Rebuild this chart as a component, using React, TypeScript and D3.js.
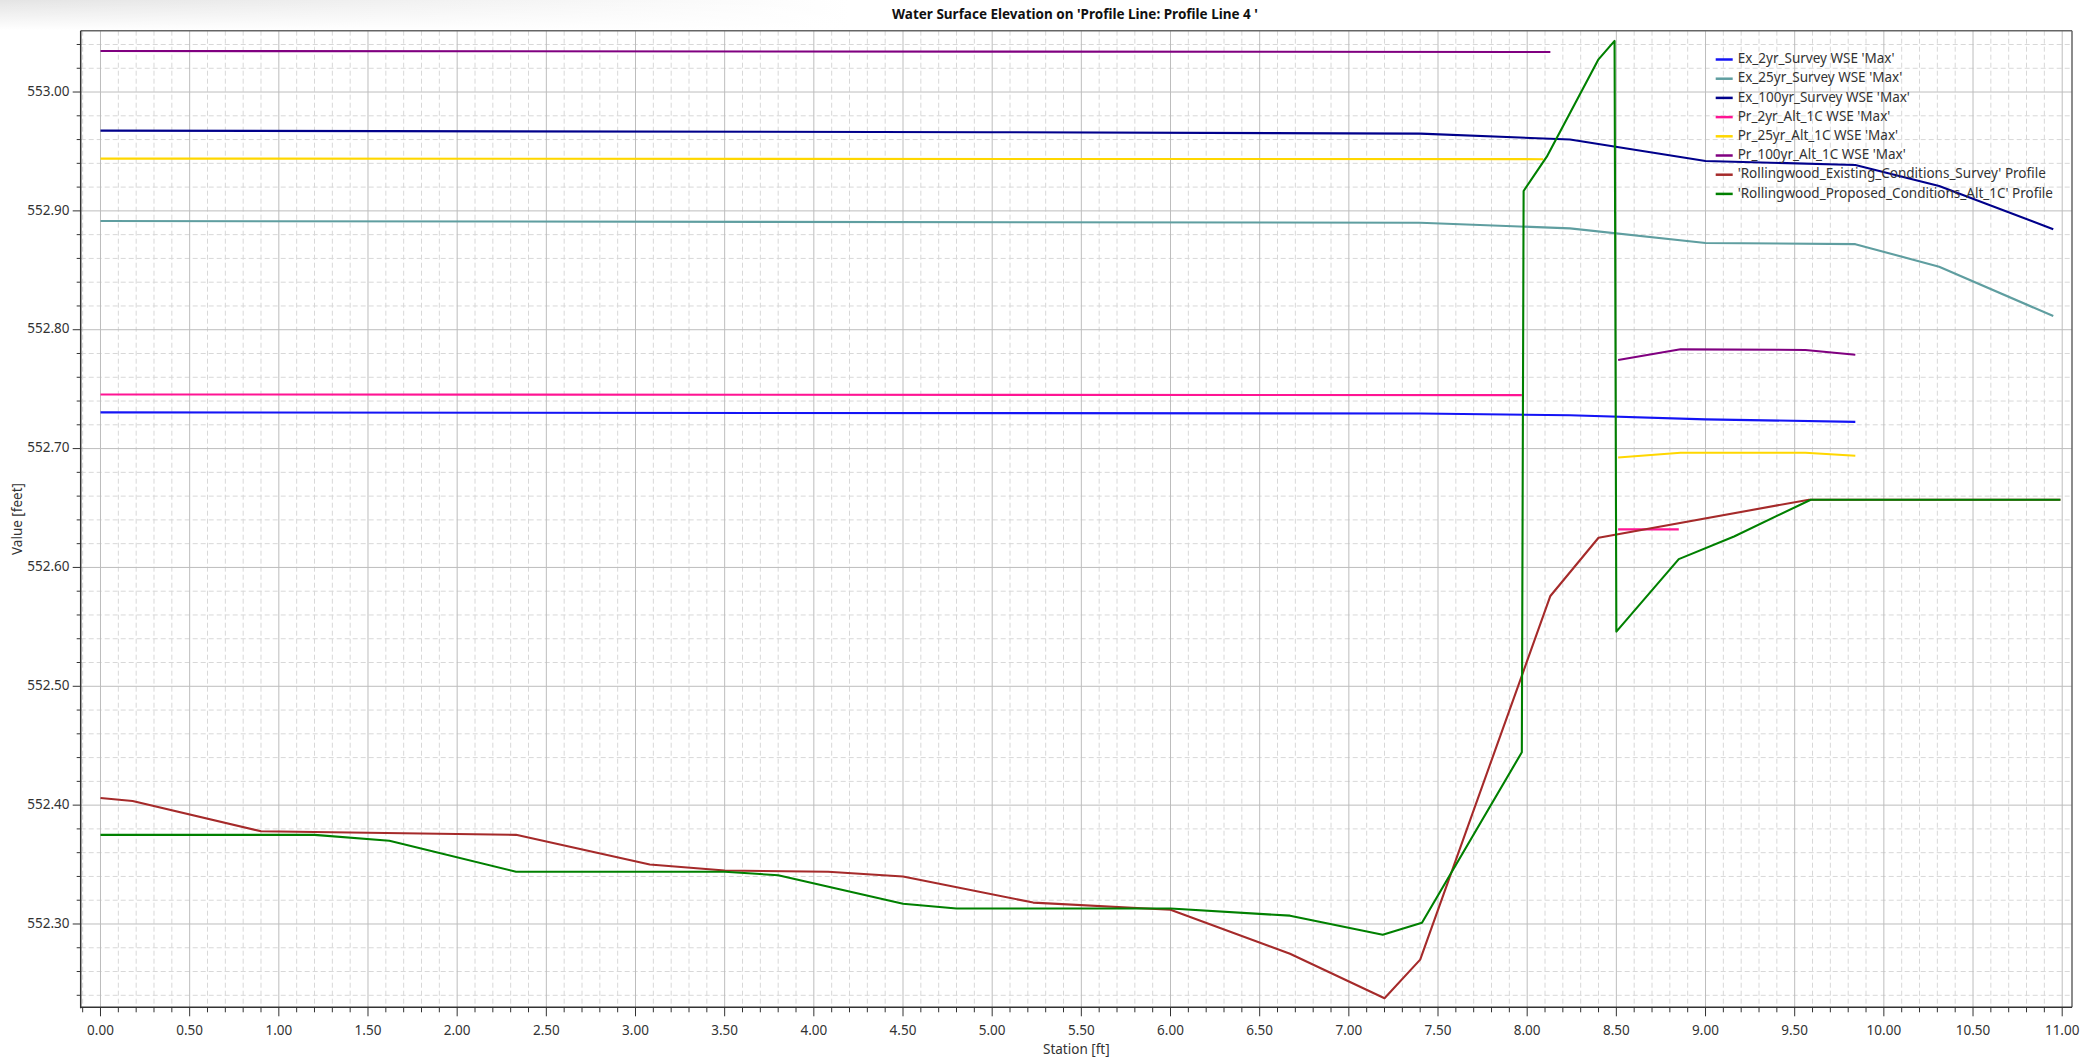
import React from "react";
import * as d3 from "d3";

type Pt = [number, number];

const seriesNames = [
  "Ex_2yr_Survey WSE 'Max'",
  "Ex_25yr_Survey WSE 'Max'",
  "Ex_100yr_Survey WSE 'Max'",
  "Pr_2yr_Alt_1C WSE 'Max'",
  "Pr_25yr_Alt_1C WSE 'Max'",
  "Pr_100yr_Alt_1C WSE 'Max'",
  "'Rollingwood_Existing_Conditions_Survey' Profile",
  "'Rollingwood_Proposed_Conditions_Alt_1C' Profile",
];
const seriesColors = ["#1414f5", "#5f9ea0", "#00008b", "#ff1493", "#ffd700", "#800080", "#a52a2a", "#008000"];

const ex2yr: Pt[] = [[0, 552.7305], [7.4, 552.7295], [8.24, 552.728], [9.0, 552.7246], [9.84, 552.7225]];
const ex25yr: Pt[] = [[0, 552.8915], [7.4, 552.890], [8.24, 552.8853], [9.0, 552.873], [9.84, 552.872], [10.31, 552.853], [10.95, 552.8115]];
const ex100yr: Pt[] = [[0, 552.9675], [5.0, 552.9662], [7.4, 552.965], [8.24, 552.960], [9.0, 552.942], [9.84, 552.9386], [10.31, 552.921], [10.95, 552.8845]];
const pr2yr: Pt[] = [[0, 552.7455], [7.97, 552.745], [NaN, NaN], [8.51, 552.632], [8.85, 552.632]];
const pr25yr: Pt[] = [[0, 552.944], [8.09, 552.9435], [NaN, NaN], [8.51, 552.6925], [8.86, 552.6965], [9.56, 552.6965], [9.84, 552.694]];
const pr100yr: Pt[] = [[0, 553.0345], [8.13, 553.0337], [NaN, NaN], [8.51, 552.7745], [8.86, 552.7835], [9.56, 552.783], [9.84, 552.779]];
const existing: Pt[] = [
  [0, 552.406], [0.18, 552.4035], [0.9, 552.378], [2.33, 552.375], [3.08, 552.350], [3.5, 552.345],
  [4.08, 552.344], [4.5, 552.340], [5.23, 552.318], [6.0, 552.312], [6.67, 552.275], [7.2, 552.2375],
  [7.4, 552.270], [8.13, 552.576], [8.40, 552.625], [9.58, 552.657], [10.99, 552.657],
];
const proposed: Pt[] = [
  [0, 552.375], [1.2, 552.375], [1.62, 552.370], [2.33, 552.344], [3.5, 552.344], [3.8, 552.341],
  [4.5, 552.317], [4.8, 552.313], [6.0, 552.313], [6.67, 552.307], [7.19, 552.291], [7.41, 552.301],
  [7.97, 552.4445], [7.98, 552.9167], [8.11, 552.9456], [8.40, 553.0275], [8.49, 553.043],
  [8.50, 552.546], [8.85, 552.607], [9.16, 552.626], [9.59, 552.657], [10.99, 552.657],
];
const seriesData = [ex2yr, ex25yr, ex100yr, pr2yr, pr25yr, pr100yr, existing, proposed];

const xMajorTicks = d3.range(0, 11.001, 0.5);
const xMinorTicks = d3.range(-0.1, 11.001, 0.1);
const yMajorTicks = d3.range(552.3, 553.0001, 0.1);
const yMinorTicks = d3.range(552.24, 553.0401, 0.02);

const titleText = "Water Surface Elevation on 'Profile Line: Profile Line 4 '";
const xLabel = "Station [ft]";
const yLabel = "Value [feet]";

const W = 2091;
const H = 1061;
const L = 80.7, R = 2072, T = 30.7, B = 1007.3;
const FONT = "'Noto Sans', 'Open Sans', sans-serif";

export default function App() {
  const x = d3.scaleLinear().domain([-0.111, 11.055]).range([L, R]);
  const y = d3.scaleLinear().domain([552.2299, 553.0516]).range([B, T]);
  const line = d3
    .line<Pt>()
    .defined((d) => !isNaN(d[0]))
    .x((d) => x(d[0]))
    .y((d) => y(d[1]));

  const isMajorX = (v: number) => Math.abs(v * 2 - Math.round(v * 2)) < 1e-6;
  const isMajorY = (v: number) => Math.abs(v * 10 - Math.round(v * 10)) < 1e-6;

  return (
    <div style={{ position: "fixed", left: 0, top: 0 }}>
      <svg width={W} height={H} style={{ display: "block", background: "#fff" }}>
        <defs>
          <linearGradient id="shadeH" x1="0" x2="1" y1="0" y2="0">
            <stop offset="0" stopColor="#e4e4e4" />
            <stop offset="1" stopColor="#ffffff" />
          </linearGradient>
          <linearGradient id="shadeV" x1="0" x2="0" y1="0" y2="1">
            <stop offset="0" stopColor="#fff" stopOpacity="0" />
            <stop offset="1" stopColor="#fff" stopOpacity="1" />
          </linearGradient>
          <clipPath id="plotClip">
            <rect x={L} y={T} width={R - L} height={B - T} />
          </clipPath>
        </defs>
        <rect x={0} y={0} width={850} height={30} fill="url(#shadeH)" />
        <rect x={0} y={0} width={850} height={30} fill="url(#shadeV)" />

        {/* minor grid */}
        <g stroke="#d8d8d8" strokeWidth={1} strokeDasharray="5,3">
          {xMinorTicks.filter((v) => !isMajorX(v)).map((v, i) => (
            <line key={"xm" + i} x1={x(v)} x2={x(v)} y1={T} y2={B} />
          ))}
          {yMinorTicks.filter((v) => !isMajorY(v)).map((v, i) => (
            <line key={"ym" + i} x1={L} x2={R} y1={y(v)} y2={y(v)} />
          ))}
        </g>
        {/* major grid */}
        <g stroke="#bdbdbd" strokeWidth={1}>
          {xMajorTicks.map((v, i) => (
            <line key={"xM" + i} x1={x(v)} x2={x(v)} y1={T} y2={B} />
          ))}
          {yMajorTicks.map((v, i) => (
            <line key={"yM" + i} x1={L} x2={R} y1={y(v)} y2={y(v)} />
          ))}
        </g>

        {/* series */}
        <g clipPath="url(#plotClip)" fill="none" strokeWidth={2.1} strokeLinejoin="round">
          {seriesData.map((d, i) => (
            <path key={i} d={line(d) || ""} stroke={seriesColors[i]} />
          ))}
        </g>

        {/* frame */}
        <line x1={L} x2={R} y1={T} y2={T} stroke="#666" strokeWidth={1.5} />
        <line x1={R} x2={R} y1={T} y2={B} stroke="#666" strokeWidth={1.5} />
        <line x1={L} x2={L} y1={T} y2={B + 1} stroke="#333" strokeWidth={1.5} />
        <line x1={L} x2={R} y1={B} y2={B} stroke="#333" strokeWidth={1.5} />

        {/* ticks */}
        <g stroke="#333" strokeWidth={1}>
          {xMinorTicks.map((v, i) => (
            <line key={"xt" + i} x1={x(v)} x2={x(v)} y1={B} y2={B + (isMajorX(v) ? 9 : 5)} />
          ))}
          {yMinorTicks.map((v, i) => (
            <line key={"yt" + i} x1={L - (isMajorY(v) ? 8 : 4)} x2={L} y1={y(v)} y2={y(v)} />
          ))}
        </g>
        <g fontFamily={FONT} fontSize={13.5} fill="#333">
          {xMajorTicks.map((v, i) => (
            <text key={"xl" + i} x={x(v)} y={1031} textAnchor="middle" dominantBaseline="middle">
              {v.toFixed(2)}
            </text>
          ))}
          {yMajorTicks.map((v, i) => (
            <text key={"yl" + i} x={69.5} y={y(v)} textAnchor="end" dominantBaseline="middle">
              {v.toFixed(2)}
            </text>
          ))}
          <text x={(L + R) / 2} y={1050} textAnchor="middle" dominantBaseline="middle">
            {xLabel}
          </text>
          <text transform={`translate(18,${(T + B) / 2})`} textAnchor="middle" dominantBaseline="middle">
            <tspan transform="rotate(-90)"></tspan>
          </text>
          <text transform={`translate(18,${(T + B) / 2}) rotate(-90)`} textAnchor="middle" dominantBaseline="middle">
            {yLabel}
          </text>
        </g>

        <text x={1075} y={15} textAnchor="middle" dominantBaseline="middle" fontFamily={FONT} fontSize={13.5} fontWeight="bold" fill="#111">
          {titleText}
        </text>

        {/* legend */}
        <g fontFamily={FONT} fontSize={13.5} fill="#333">
          {seriesNames.map((n, i) => (
            <g key={n} transform={`translate(0,${59.5 + i * 19.2})`}>
              <line x1={1715.7} x2={1732.7} y1={0} y2={0} stroke={seriesColors[i]} strokeWidth={2.5} />
              <text x={1737.7} y={0} dominantBaseline="middle">
                {n}
              </text>
            </g>
          ))}
        </g>
      </svg>
    </div>
  );
}
